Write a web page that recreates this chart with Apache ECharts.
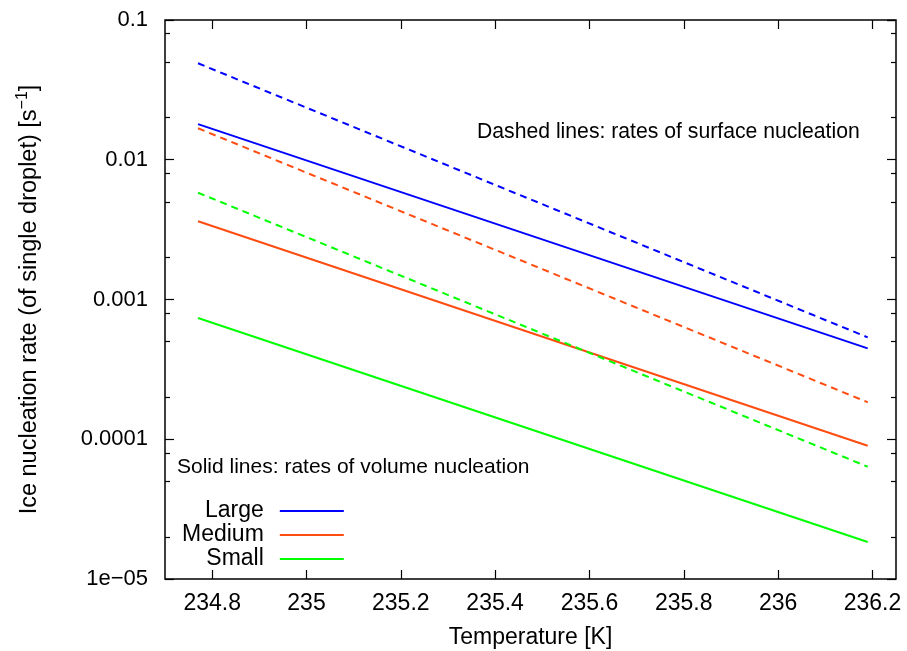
<!DOCTYPE html>
<html>
<head>
<meta charset="utf-8">
<script src="https://cdn.jsdelivr.net/npm/echarts@6/dist/echarts.min.js"></script>
<style>
  html, body { margin: 0; padding: 0; background: #fff; }
  #chart { width: 907px; height: 651px; }
</style>
</head>
<body>
<div id="chart"></div>
<script>
// ---- Data ----
const temperatures = [234.77, 236.19];

// Solid lines: volume nucleation rates [1/s]
const largeVolume  = [0.0180, 0.000447];
const mediumVolume = [0.00363, 0.0000899];
const smallVolume  = [0.000737, 0.0000184];

// Dashed lines: surface nucleation rates [1/s]
const largeSurface  = [0.0490, 0.000536];
const mediumSurface = [0.0168, 0.000184];
const smallSurface  = [0.00581, 0.0000636];

const xTickValues = [234.8, 235, 235.2, 235.4, 235.6, 235.8, 236, 236.2];
const xTickLabels = ['234.8', '235', '235.2', '235.4', '235.6', '235.8', '236', '236.2'];
const yTickValues = [1e-5, 1e-4, 1e-3, 1e-2, 1e-1];
const yTickLabels = ['1e\u221205', '0.0001', '0.001', '0.01', '0.1'];
const yMinorMultipliers = [2, 5, 8];

const seriesNames = ['Large', 'Medium', 'Small'];
const colors = ['#0000ff', '#ff4d12', '#00ff00'];

// ---- Helpers ----
function pair(xs, ys) { return xs.map((x, i) => [x, ys[i]]); }
const minorLogTicks = [];
for (let d = -5; d < -1; d++) {
  yMinorMultipliers.forEach(m => minorLogTicks.push(Math.log10(m) + d));
}
function xLabel(v) {
  let best = 0;
  xTickValues.forEach((t, i) => { if (Math.abs(t - v) < Math.abs(xTickValues[best] - v)) best = i; });
  return xTickLabels[best];
}
function yLabel(v) {
  const lv = Math.log10(v);
  let best = 0;
  yTickValues.forEach((t, i) => { if (Math.abs(Math.log10(t) - lv) < Math.abs(Math.log10(yTickValues[best]) - lv)) best = i; });
  return yTickLabels[best];
}

const FONT = '"Liberation Sans", Arial, Helvetica, sans-serif';
const tickLine = { color: '#000', width: 1.2 };

const chart = echarts.init(document.getElementById('chart'), null, { renderer: 'canvas' });

function lineSeries(name, data, color, dashed) {
  return {
    name: name,
    type: 'line',
    xAxisIndex: 0,
    yAxisIndex: 0,
    data: data,
    symbol: 'none',
    showSymbol: false,
    silent: true,
    animation: false,
    lineStyle: { color: color, width: 2, type: dashed ? [7, 5] : 'solid' },
    itemStyle: { color: color }
  };
}

const option = {
  animation: false,
  backgroundColor: '#fff',
  textStyle: { fontFamily: FONT },
  grid: {
    left: 165, right: 11, top: 20, bottom: 72,
    outerBoundsMode: 'none',
    containLabel: false,
    show: true, borderColor: '#000', borderWidth: 1.5, backgroundColor: 'transparent'
  },
  legend: {
    data: seriesNames,
    orient: 'vertical',
    align: 'right',
    left: 182,
    top: 499,
    icon: 'rect',
    itemWidth: 64,
    itemHeight: 2,
    itemGap: 0,
    padding: 0,
    selectedMode: false,
    textStyle: { fontSize: 23, fontFamily: FONT, color: '#000', lineHeight: 24, padding: [0, 11, 0, 0] }
  },
  xAxis: [
    {
      type: 'value', min: 234.7, max: 236.25, position: 'bottom',
      axisLine: { show: false }, splitLine: { show: false },
      axisTick: { show: true, inside: true, length: 9, lineStyle: tickLine, customValues: xTickValues },
      axisLabel: { customValues: xTickValues, formatter: xLabel, fontSize: 23, fontFamily: FONT, color: '#000', margin: 13 },
      name: 'Temperature [K]', nameLocation: 'middle', nameGap: 47,
      nameTextStyle: { fontSize: 23, fontFamily: FONT, color: '#000' }
    },
    {
      type: 'value', min: 234.7, max: 236.25, position: 'top',
      axisLine: { show: false }, splitLine: { show: false },
      axisTick: { show: true, inside: true, length: 9, lineStyle: tickLine, customValues: xTickValues },
      axisLabel: { show: false, customValues: xTickValues }
    }
  ],
  yAxis: [
    {
      type: 'log', logBase: 10, min: 1e-5, max: 0.1, position: 'left',
      axisLine: { show: false }, splitLine: { show: false },
      axisTick: { show: true, inside: true, length: 9, lineStyle: tickLine },
      axisLabel: { formatter: yLabel, fontSize: 22, fontFamily: FONT, color: '#000', margin: 17 },
      name: 'Ice nucleation rate (of single droplet) [s{sup|\u22121}]',
      nameLocation: 'middle', nameGap: 120, nameRotate: 90,
      nameTextStyle: {
        fontSize: 23.5, fontFamily: FONT, color: '#000', lineHeight: 30, verticalAlign: 'bottom',
        rich: { sup: { fontSize: 16, fontFamily: FONT, color: '#000', lineHeight: 30, verticalAlign: 'top' } }
      }
    },
    {
      type: 'log', logBase: 10, min: 1e-5, max: 0.1, position: 'right',
      axisLine: { show: false }, splitLine: { show: false },
      axisTick: { show: true, inside: true, length: 9, lineStyle: tickLine },
      axisLabel: { show: false }
    },
    {
      type: 'value', min: -5, max: -1, position: 'left',
      axisLine: { show: false }, splitLine: { show: false },
      axisTick: { show: true, inside: true, length: 5, lineStyle: tickLine, customValues: minorLogTicks },
      axisLabel: { show: false, customValues: minorLogTicks }
    },
    {
      type: 'value', min: -5, max: -1, position: 'right',
      axisLine: { show: false }, splitLine: { show: false },
      axisTick: { show: true, inside: true, length: 5, lineStyle: tickLine, customValues: minorLogTicks },
      axisLabel: { show: false, customValues: minorLogTicks }
    }
  ],
  graphic: [
    {
      type: 'text', x: 477, y: 132, silent: true,
      style: { text: 'Dashed lines: rates of surface nucleation', fontSize: 21.2, fontFamily: FONT, fill: '#000', verticalAlign: 'middle' }
    },
    {
      type: 'text', x: 177, y: 467, silent: true,
      style: { text: 'Solid lines: rates of volume nucleation', fontSize: 21, fontFamily: FONT, fill: '#000', verticalAlign: 'middle' }
    }
  ],
  series: [
    lineSeries('Large', pair(temperatures, largeVolume), colors[0], false),
    lineSeries('Medium', pair(temperatures, mediumVolume), colors[1], false),
    lineSeries('Small', pair(temperatures, smallVolume), colors[2], false),
    lineSeries('Large surface', pair(temperatures, largeSurface), colors[0], true),
    lineSeries('Medium surface', pair(temperatures, mediumSurface), colors[1], true),
    lineSeries('Small surface', pair(temperatures, smallSurface), colors[2], true)
  ]
};

chart.setOption(option);
</script>
</body>
</html>
